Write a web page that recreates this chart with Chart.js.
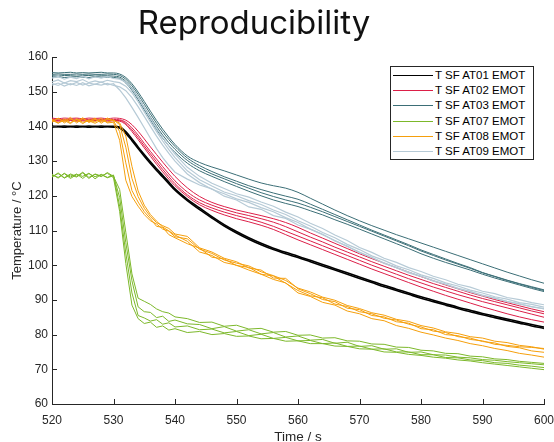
<!DOCTYPE html>
<html>
<head>
<meta charset="utf-8">
<script src="https://cdn.jsdelivr.net/npm/chart.js@4"></script>
<style>
body { margin: 0; background: #fff; }
#wrap { position: relative; width: 554px; height: 442px; }
#title { position: absolute; left: 0; top: 2px; width: 508px; text-align: center; font-family: Inter, sans-serif; font-size: 33px; line-height: 40px; color: #111; }
#legend { position: absolute; left: 390px; top: 66px; width: 142px; height: 92px; border: 1px solid #262626; background: #fff; font-family: 'Liberation Sans', Arial, sans-serif; font-size: 11.5px; color: #000; }
.row { position: absolute; left: 0; height: 14px; line-height: 14px; white-space: nowrap; }
.row i { position: absolute; left: 2px; top: 7px; width: 40px; height: 1px; }
.row b { position: absolute; left: 44px; top: 0; font-weight: normal; }
</style>
</head>
<body>
<div id="wrap">
  <canvas id="c" width="554" height="442"></canvas>
  <div id="title">Reproducibility</div>
  <div id="legend"></div>
</div>
<script>
// time axis (s): 1 s steps through the cool-down start, 2 s after
const time = [520,521,522,523,524,525,526,527,528,529,530,531,532,533,534,535,536,537,538,539,540,
  542,544,546,548,550,552,554,556,558,560,562,564,566,568,570,572,574,576,578,580,582,584,586,588,590,592,594,596,598,600];

const seriesNames = ['T SF AT01 EMOT', 'T SF AT02 EMOT', 'T SF AT03 EMOT', 'T SF AT07 EMOT', 'T SF AT08 EMOT', 'T SF AT09 EMOT'];

// temperatures in °C, one list per run
const at01 = [
  [140.1,140.0,140.1,140.0,140.1,140.0,140.1,140.0,140.1,140.0,140.0,
   139.8,138.5,136.4,134.1,131.9,129.8,127.8,125.9,124.0,122.0,
   119.0,116.5,114.0,111.7,109.7,107.9,106.3,104.9,103.7,102.6,101.4,100.2,99.0,97.8,96.6,95.4,94.2,93.1,92.0,90.9,89.9,88.9,87.9,87.0,86.1,85.3,84.5,83.7,82.9,82.2],
  [139.8,139.9,139.8,139.9,139.8,139.9,139.8,139.9,139.8,139.9,139.8,
   139.5,138.0,135.9,133.6,131.4,129.3,127.3,125.4,123.5,121.6,
   118.6,116.0,113.6,111.3,109.3,107.5,105.9,104.5,103.3,102.2,101.0,99.8,98.6,97.4,96.2,95.0,93.8,92.7,91.6,90.5,89.5,88.5,87.5,86.6,85.7,84.9,84.1,83.3,82.5,81.8]
];

const at02 = [
  [142.4,142.2,142.4,142.3,142.4,142.2,142.4,142.3,142.4,142.2,142.4,
   142.3,141.8,140.5,138.6,136.4,134.1,131.9,129.7,127.6,125.6,
   122.3,119.8,118.1,116.9,115.9,115.1,114.3,113.4,112.3,110.9,109.3,107.8,106.3,104.8,103.3,101.9,100.6,99.3,98.0,96.7,95.5,94.3,93.2,92.1,91.1,90.1,89.2,88.3,87.4,86.6],
  [142.0,142.1,141.9,142.0,142.1,142.0,141.9,142.1,142.0,141.9,142.0,
   141.9,141.2,139.6,137.5,135.1,132.8,130.6,128.4,126.3,124.3,
   121.1,118.8,117.3,116.1,115.1,114.3,113.4,112.4,111.1,109.6,108.1,106.7,105.2,103.8,102.4,101.0,99.7,98.4,97.1,95.9,94.7,93.6,92.5,91.4,90.4,89.5,88.6,87.7,86.8,86.0],
  [141.8,141.7,141.9,141.8,141.7,141.8,141.9,141.7,141.8,141.8,141.7,
   141.7,140.8,139.0,136.8,134.4,132.1,129.8,127.6,125.5,123.5,
   120.3,118.0,116.5,115.3,114.3,113.4,112.4,111.2,109.8,108.4,107.0,105.6,104.2,102.8,101.4,100.0,98.7,97.4,96.1,94.9,93.7,92.6,91.5,90.5,89.5,88.6,87.7,86.8,85.9,85.0],
  [141.6,141.5,141.6,141.7,141.5,141.6,141.5,141.7,141.6,141.5,141.6,
   141.5,140.5,138.5,136.2,133.8,131.4,129.1,126.9,124.8,122.9,
   119.8,117.4,115.8,114.5,113.4,112.5,111.5,110.3,108.8,107.3,105.9,104.5,103.1,101.7,100.3,98.9,97.6,96.3,95.0,93.7,92.5,91.3,90.2,89.1,88.0,87.0,86.0,85.1,84.3,83.6]
];

const at03 = [
  [155.5,155.4,155.5,155.6,155.4,155.5,155.4,155.5,155.6,155.4,155.4,
   155.1,154.1,152.3,149.9,147.2,144.4,141.7,139.2,136.9,134.8,
   131.5,129.6,128.3,127.2,126.0,124.8,123.7,122.9,122.2,121.0,119.3,117.6,115.9,114.3,112.8,111.4,110.1,108.8,107.6,106.4,105.2,104.0,102.8,101.6,100.4,99.2,98.0,96.9,95.8,94.8],
  [155.0,155.1,155.0,155.0,155.1,155.0,155.1,155.0,155.0,155.1,155.0,
   154.7,153.6,151.7,149.2,146.4,143.6,140.9,138.4,136.2,134.2,
   130.9,128.7,127.0,125.5,124.2,122.9,121.8,120.8,119.9,119.0,117.6,116.1,114.6,113.1,111.6,110.1,108.7,107.3,105.9,104.4,103.1,101.8,100.5,99.3,97.9,96.8,95.7,94.7,93.8,92.9],
  [154.6,154.5,154.7,154.6,154.5,154.6,154.7,154.5,154.6,154.6,154.5,
   154.2,153.0,151.0,148.4,145.5,142.7,140.0,137.5,135.3,133.4,
   130.2,128.0,126.3,124.9,123.5,122.2,120.9,119.8,118.8,117.9,116.7,115.4,114.0,112.6,111.2,109.8,108.4,107.0,105.6,104.1,102.8,101.5,100.3,99.1,97.8,96.7,95.6,94.6,93.6,92.7],
  [154.2,154.3,154.1,154.2,154.3,154.2,154.1,154.3,154.2,154.2,154.1,
   153.8,152.5,150.4,147.7,144.8,141.9,139.1,136.6,134.4,132.5,
   129.4,127.2,125.6,124.1,122.7,121.3,120.0,118.8,117.8,116.9,115.7,114.5,113.1,111.8,110.4,109.0,107.6,106.2,104.8,103.3,102.0,100.8,99.7,98.6,97.4,96.3,95.3,94.3,93.3,92.4]
];

const at07 = [
  [126.2,125.1,126.5,125.4,126.3,125.0,126.4,125.5,126.1,125.2,125.8,
   119.5,106.5,95.5,88.0,86.6,86.4,84.9,85.3,83.8,84.2,
   83.1,82.9,81.7,82.3,81.0,81.4,80.2,80.6,79.3,79.6,78.4,78.6,77.5,77.8,76.6,76.8,75.8,75.9,74.9,75.0,74.2,74.1,73.5,73.3,72.8,72.6,72.2,71.9,71.6,71.3],
  [125.4,126.6,125.2,126.3,125.6,126.8,125.3,126.2,125.5,126.7,125.6,
   121.8,109.5,97.5,90.5,89.6,88.7,87.4,86.6,86.2,85.1,
   84.6,83.5,83.6,82.4,82.7,81.6,81.8,80.7,80.9,79.8,79.9,79.0,79.1,78.2,78.1,77.3,77.2,76.4,76.3,75.5,75.3,74.6,74.5,73.8,73.6,73.0,72.8,72.3,72.0,71.7],
  [126.0,125.3,126.4,125.0,126.1,125.6,126.5,124.9,126.2,125.3,126.0,
   117.0,103.5,92.0,85.5,84.8,83.9,84.3,83.0,83.4,82.2,
   82.5,81.4,81.6,80.5,80.9,79.7,80.1,78.9,79.2,78.2,78.3,77.4,77.6,76.6,76.7,75.8,75.9,75.0,75.0,74.2,74.2,73.4,73.3,72.7,72.5,71.9,71.7,71.2,70.9,70.5],
  [125.5,126.4,125.1,126.0,125.4,126.6,125.0,126.3,125.7,126.5,125.2,
   115.5,100.5,88.5,84.6,83.2,83.6,82.1,82.5,81.3,81.7,
   80.6,80.9,80.0,80.3,79.5,79.6,78.8,78.9,78.1,78.2,77.4,77.4,76.7,76.6,75.9,75.8,75.0,74.9,74.3,74.0,73.5,73.2,72.7,72.4,71.9,71.5,71.1,70.7,70.3,69.9]
];

const at08 = [
  [141.8,140.9,142.2,141.1,142.0,140.8,141.9,141.3,142.3,141.0,141.2,
   136.0,124.5,119.8,117.0,114.6,112.8,111.9,110.4,109.8,108.2,
   107.6,104.6,103.4,101.5,100.6,99.8,98.1,97.0,95.6,93.4,92.3,90.8,89.9,88.4,87.5,86.3,85.6,84.4,83.8,82.6,81.9,80.8,80.3,79.4,79.0,78.1,77.7,76.9,76.5,75.8],
  [141.2,142.4,141.0,142.1,141.4,142.5,141.1,142.0,141.3,142.4,141.6,
   138.5,129.5,121.5,118.2,115.4,113.4,111.2,110.9,108.8,107.9,
   106.2,104.9,102.3,101.8,99.9,99.4,97.4,96.9,94.8,92.7,91.2,90.6,88.8,88.1,86.6,86.0,84.7,84.2,83.0,82.2,81.0,80.6,79.4,79.0,78.0,77.6,76.6,76.2,75.3,74.9],
  [142.1,141.0,141.7,140.8,142.2,141.2,141.6,140.9,141.8,141.2,141.9,
   140.5,134.0,125.0,119.8,116.4,114.0,112.3,111.4,110.6,109.0,
   108.3,105.0,103.8,102.0,101.0,99.2,98.6,96.3,96.2,93.2,91.8,90.1,89.5,87.6,87.2,85.5,85.1,83.7,83.3,81.7,81.4,80.0,79.7,78.6,78.2,77.2,76.9,76.5,76.3,76.0],
  [141.5,142.3,141.4,142.6,141.0,142.2,141.5,142.4,140.9,142.1,141.7,
   141.0,137.2,128.5,121.4,117.3,114.6,112.7,111.0,109.9,108.7,
   106.9,103.8,102.8,100.8,100.0,98.6,97.4,95.9,94.9,92.0,91.0,89.3,88.5,86.8,86.0,84.6,84.0,82.6,81.8,80.7,79.9,79.0,78.3,77.4,76.8,76.0,75.4,74.6,74.1,73.5]
];

const at09 = [
  [153.9,154.4,153.6,154.2,153.8,154.5,153.7,154.3,153.9,154.4,153.8,
   153.6,152.7,150.8,148.3,145.4,142.4,139.5,136.8,134.3,132.0,
   128.2,125.6,123.6,122.1,120.6,119.6,118.2,117.0,115.3,113.9,112.1,110.6,108.7,107.1,105.1,103.7,102.0,100.8,99.3,98.2,96.8,95.8,94.5,93.7,92.5,91.8,90.7,90.1,89.2,88.6],
  [152.8,153.4,152.5,153.2,152.9,153.5,152.6,153.1,152.7,153.3,152.9,
   152.6,151.6,149.7,147.1,144.2,141.3,138.5,135.8,133.3,131.0,
   127.2,124.6,122.8,121.1,120.0,118.6,117.5,115.9,114.6,112.8,111.3,109.4,107.9,106.0,104.5,102.7,101.4,99.8,98.7,97.2,96.2,94.9,94.0,92.8,92.0,90.9,90.2,89.2,88.7,87.9],
  [151.9,152.5,151.6,152.3,151.8,152.6,151.7,152.2,151.9,152.4,151.8,
   151.4,150.3,148.3,145.7,142.9,140.0,137.2,134.6,132.2,130.0,
   126.3,123.8,121.9,120.6,119.1,118.1,116.6,115.4,113.7,112.3,110.4,108.9,107.0,105.5,103.6,102.2,100.5,99.3,97.8,96.8,95.4,94.5,93.2,92.4,91.2,90.5,89.5,88.9,88.0,87.5],
  [152.4,151.8,152.6,152.0,152.7,151.9,152.5,152.1,152.8,152.0,152.3,
   150.5,148.2,145.5,142.6,139.6,136.6,133.6,131.0,128.8,126.8,
   124.8,123.1,122.0,119.9,118.8,116.8,116.1,114.3,113.5,111.6,110.4,108.8,107.1,105.4,103.8,102.2,100.7,99.3,98.0,96.8,95.6,94.5,93.4,92.4,91.4,90.5,89.6,88.8,88.1,87.4]
];

const allRuns = [at01, at02, at03, at07, at08, at09];

// line styles
const lineColors = ['#000000', '#dc1f48', '#3b6e76', '#7cb82a', '#f59f0c', '#b6cad6'];
const lineWidths = [1.6, 1, 1, 1, 1, 1.2];
const smooth = [true, true, true, false, false, false];

const datasets = [];
allRuns.forEach(function (runs, si) {
  runs.forEach(function (run) {
    datasets.push({
      label: seriesNames[si],
      data: time.map(function (t, k) { return { x: t, y: run[k] }; }),
      borderColor: lineColors[si],
      borderWidth: lineWidths[si],
      pointRadius: 0,
      tension: smooth[si] ? 0.4 : 0,
      cubicInterpolationMode: smooth[si] ? 'monotone' : 'default',
      order: allRuns.length - si
    });
  });
});

// legend box
const legend = document.getElementById('legend');
seriesNames.forEach(function (name, i) {
  const row = document.createElement('div');
  row.className = 'row';
  row.style.top = Math.round(1 + i * 15.2) + 'px';
  const sw = document.createElement('i');
  sw.style.background = lineColors[i];
  const txt = document.createElement('b');
  txt.textContent = name;
  row.appendChild(sw);
  row.appendChild(txt);
  legend.appendChild(row);
});

const axisColor = '#262626';
const tickFont = { family: "'Liberation Sans', Arial, sans-serif", size: 12 };

// small tick marks pointing into the plot
const inwardTicks = {
  id: 'inwardTicks',
  afterDatasetsDraw(chart) {
    const ctx = chart.ctx, area = chart.chartArea, xs = chart.scales.x, ys = chart.scales.y;
    ctx.save();
    ctx.strokeStyle = axisColor;
    ctx.lineWidth = 1;
    ctx.beginPath();
    xs.ticks.forEach(function (t, i) {
      const px = Math.round(xs.getPixelForTick(i)) + 0.5;
      ctx.moveTo(px, area.bottom);
      ctx.lineTo(px, area.bottom - 5);
    });
    ys.ticks.forEach(function (t, i) {
      const py = Math.round(ys.getPixelForTick(i)) + 0.5;
      ctx.moveTo(area.left, py);
      ctx.lineTo(area.left + 5, py);
    });
    ctx.stroke();
    ctx.restore();
  }
};

new Chart(document.getElementById('c'), {
  type: 'line',
  data: { datasets: datasets },
  plugins: [inwardTicks],
  options: {
    responsive: false,
    animation: false,
    devicePixelRatio: 1,
    layout: { autoPadding: false, padding: { top: 57, right: 10, left: 0, bottom: 0 } },
    plugins: { legend: { display: false }, tooltip: { enabled: false } },
    scales: {
      x: {
        type: 'linear', min: 520, max: 600,
        ticks: { stepSize: 10, color: axisColor, font: tickFont, padding: 9, maxRotation: 0 },
        grid: { display: false, drawTicks: false },
        border: { display: true, color: axisColor, width: 1 },
        title: { display: true, text: 'Time / s', color: axisColor, font: { family: tickFont.family, size: 13.5, lineHeight: 1 }, padding: { top: 0, bottom: -2 } },
        afterFit: function (s) { s.height = 38; s.paddingLeft = 0; s.paddingRight = 0; }
      },
      y: {
        type: 'linear', min: 60, max: 160,
        ticks: { stepSize: 10, color: axisColor, font: tickFont, padding: 4 },
        grid: { display: false, drawTicks: false },
        border: { display: true, color: axisColor, width: 1 },
        title: { display: true, text: 'Temperature / °C', color: axisColor, font: { family: tickFont.family, size: 13, lineHeight: 1 }, padding: { top: 11, bottom: 0 } },
        afterFit: function (s) { s.width = 52; }
      }
    }
  }
});
</script>
</body>
</html>
